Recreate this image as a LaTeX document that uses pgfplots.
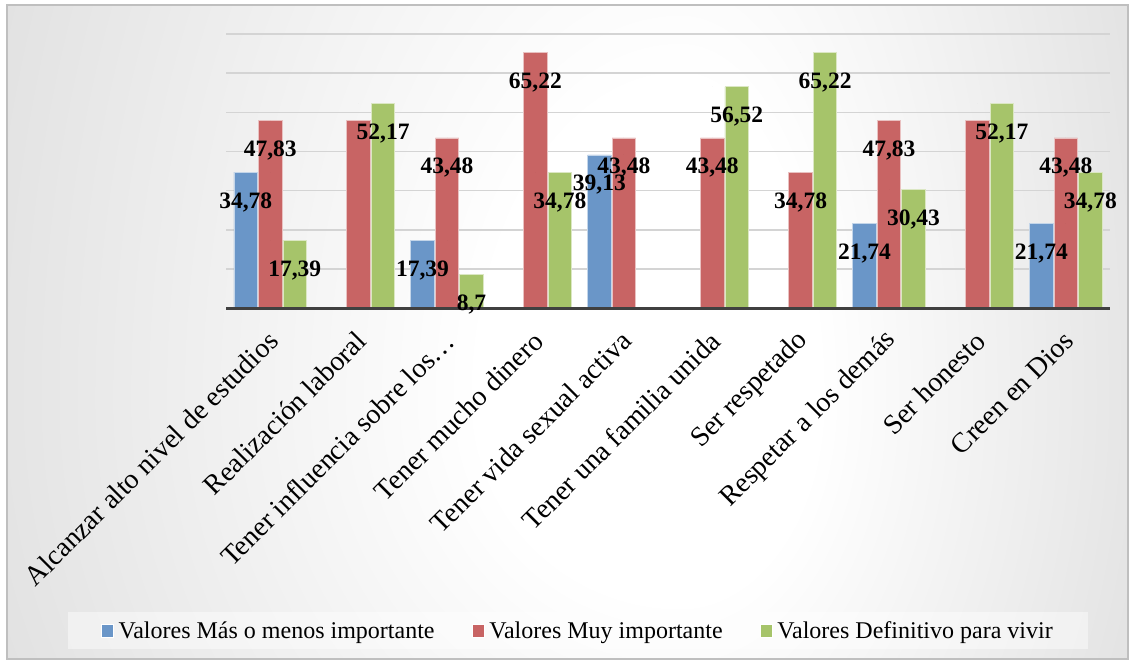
\documentclass[border=0pt]{standalone}
\usepackage{fontspec}
\setmainfont{Liberation Serif}
\usepackage{pgfplots}
\usepackage{pgfplotstable}
\pgfplotsset{compat=1.18}
\definecolor{cblue}{HTML}{6A96C8}
\definecolor{cred}{HTML}{C86464}
\definecolor{cgreen}{HTML}{A6C46A}
\definecolor{bggray}{HTML}{BCBCBC}
\pgfdeclareradialshading{bgshade}{\pgfpoint{0bp}{0bp}}{color(0bp)=(white); color(5bp)=(white); color(35bp)=(bggray); color(50bp)=(bggray)}
\newcommand{\lbl}{\fontsize{23.5}{26}\selectfont\bfseries}
\newcommand{\tck}{\fontsize{28}{32}\selectfont}
\newcommand{\lgd}{\fontsize{24}{28}\selectfont}

\pgfplotstableread{
x y
0 34.78
2 17.39
4 39.13
7 21.74
9 21.74
}\blue
\pgfplotstableread{
x y
0 47.83
1 47.83
2 43.48
3 65.22
4 43.48
5 43.48
6 34.78
7 47.83
8 47.83
9 43.48
}\red
\pgfplotstableread{
x y
0 17.39
1 52.17
2 8.7
3 34.78
5 56.52
6 65.22
7 30.43
8 52.17
9 34.78
}\green
\pgfplotstableread{
x y lab
0 34.78 34,78
2 17.39 17,39
4 39.13 39,13
7 21.74 21,74
9 21.74 21,74
}\bluelab
\pgfplotstableread{
x y lab
0 47.83 47,83
2 43.48 43,48
3 65.22 65,22
4 43.48 43,48
5 43.48 43,48
6 34.78 34,78
7 47.83 47,83
9 43.48 43,48
}\redlab
\pgfplotstableread{
x y lab
0 17.39 17,39
1 52.17 52,17
2 8.7 8,7
3 34.78 34,78
5 56.52 56,52
6 65.22 65,22
7 30.43 30,43
8 52.17 52,17
9 34.78 34,78
}\greenlab

\begin{document}
\begin{tikzpicture}
\begin{axis}[
  set layers,
  scale only axis, width=884pt, height=274.3pt,
  xmin=-0.5, xmax=9.5, ymin=0, ymax=70,
  clip=false,
  axis line style={draw=none},
  major tick length=0pt,
  ytick={10,20,...,70}, yticklabels={},
  ymajorgrids, grid style={color=black!17, line width=1.5pt},
  xtick={0,...,9},
  xticklabels={Alcanzar alto nivel de estudios, Realización laboral, Tener influencia sobre los…, Tener mucho dinero, Tener vida sexual activa, Tener una familia unida, Ser respetado, Respetar a los demás, Ser honesto, Creen en Dios},
  xticklabel style={font=\tck, inner sep=0pt, xshift=3pt, yshift=-28pt, rotate=45, anchor=east},
  legend columns=3,
  legend style={at={(0.3985,-1.1746)}, anchor=center, draw=none, fill=white, fill opacity=0.45, text opacity=1, font=\lgd, inner xsep=33pt, inner ysep=7pt,
    /tikz/every even column/.append style={column sep=35pt},
    /tikz/every odd column/.append style={column sep=2pt},
    nodes={inner sep=2.5pt}},
  legend cell align=left,
]
\pgfplotsextra{%
\begin{pgfonlayer}{axis background}
\begin{scope}[shift={(rel axis cs:-0.255656,1.123952)}]
  \fill[white] (0pt,0pt) rectangle (1134pt,-664pt);
  \begin{scope}\clip (7pt,-5pt) rectangle (680pt,-400pt); \shade[shading=bgshade] (680pt,-400pt) ellipse (1000pt and 1571.5pt); \end{scope}
  \begin{scope}\clip (680pt,-5pt) rectangle (1128pt,-400pt); \shade[shading=bgshade] (680pt,-400pt) ellipse (690pt and 1571.5pt); \end{scope}
  \begin{scope}\clip (7pt,-400pt) rectangle (680pt,-659pt); \shade[shading=bgshade] (680pt,-400pt) ellipse (1000pt and 1000pt); \end{scope}
  \begin{scope}\clip (680pt,-400pt) rectangle (1128pt,-659pt); \shade[shading=bgshade] (680pt,-400pt) ellipse (690pt and 1000pt); \end{scope}
  \draw[black!25, line width=1.5pt] (7pt,-5pt) rectangle (1128pt,-659pt);
\end{scope}
\end{pgfonlayer}}
\addplot[ybar, bar width=23.5pt, bar shift=-24.5pt, fill=cblue, draw=white!60!cblue, line width=0.8pt,
  legend image code/.code={\draw[fill=cblue, draw=white, fill opacity=1, draw opacity=1] (0pt,-6.5pt) rectangle (12pt,6.5pt);}] table[x=x,y=y] {\blue};
\addlegendentry{Valores Más o menos importante}
\addplot[ybar, bar width=23.5pt, bar shift=0pt, fill=cred, draw=white!60!cred, line width=0.8pt,
  legend image code/.code={\draw[fill=cred, draw=white, fill opacity=1, draw opacity=1] (0pt,-6.5pt) rectangle (12pt,6.5pt);}] table[x=x,y=y] {\red};
\addlegendentry{Valores Muy importante}
\addplot[ybar, bar width=23.5pt, bar shift=24.5pt, fill=cgreen, draw=white!60!cgreen, line width=0.8pt,
  legend image code/.code={\draw[fill=cgreen, draw=white, fill opacity=1, draw opacity=1] (0pt,-6.5pt) rectangle (12pt,6.5pt);}] table[x=x,y=y] {\green};
\addlegendentry{Valores Definitivo para vivir}
\addplot[forget plot, only marks, mark=*, mark size=0pt, mark options={draw=none,fill=none}, point meta=explicit symbolic, nodes near coords,
  nodes near coords style={font=\lbl, anchor=center, inner sep=0pt, xshift=-24.5pt, yshift=-30pt}] table[x=x,y=y,meta=lab] {\bluelab};
\addplot[forget plot, only marks, mark=*, mark size=0pt, mark options={draw=none,fill=none}, point meta=explicit symbolic, nodes near coords,
  nodes near coords style={font=\lbl, anchor=center, inner sep=0pt, xshift=0pt, yshift=-30pt}] table[x=x,y=y,meta=lab] {\redlab};
\addplot[forget plot, only marks, mark=*, mark size=0pt, mark options={draw=none,fill=none}, point meta=explicit symbolic, nodes near coords,
  nodes near coords style={font=\lbl, anchor=center, inner sep=0pt, xshift=24.5pt, yshift=-30pt}] table[x=x,y=y,meta=lab] {\greenlab};
\draw[line width=3.3pt, black!75] (rel axis cs:0,0) -- (rel axis cs:1,0);
\end{axis}
\end{tikzpicture}
\end{document}
